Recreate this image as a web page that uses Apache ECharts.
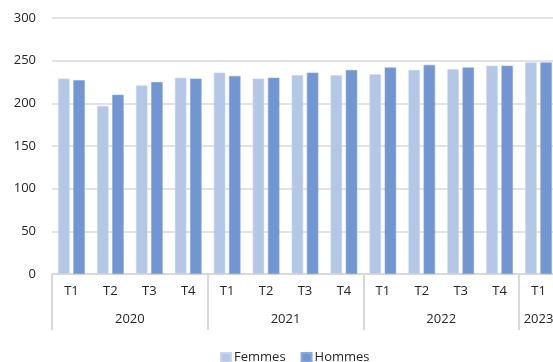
<!DOCTYPE html>
<html>
<head>
<meta charset="utf-8">
<script src="https://cdn.jsdelivr.net/npm/echarts@6/dist/echarts.min.js"></script>
<style>
  html, body { margin: 0; padding: 0; background: #fff; }
  #chart { width: 553px; height: 362px; }
</style>
</head>
<body>
<div id="chart"></div>
<script>
// Quarterly values, 2020 T1 to 2023 T1
const quarters = ['T1','T2','T3','T4','T1','T2','T3','T4','T1','T2','T3','T4','T1'];
const years = ['2020', '2021', '2022', '2023'];
const yearSizes = [4, 4, 4, 1];
const femmes = [229, 197, 221, 230, 236, 229, 233, 233, 234, 239, 240, 244, 248];
const hommes = [227, 210, 225, 229, 232, 230, 236, 239, 242, 245, 242, 244, 248];
const yTicks = [0, 50, 100, 150, 200, 250, 300];

// Year row: a half-step axis so each year label sits at the middle of its group
const halfSteps = quarters.length * 2 + 1;
const yearRow = new Array(halfSteps).fill('');
let start = 0;
years.forEach((y, i) => {
  yearRow[start * 2 + yearSizes[i]] = y;
  start += yearSizes[i];
});
// Group boundaries (category indices where a new year starts)
const boundaries = new Set();
start = 0;
yearSizes.forEach(s => { boundaries.add(start); start += s; });
boundaries.add(start);

const textColor = '#262626';
const lineColor = '#d9d9d9';
const font = 'Open Sans';

const chart = echarts.init(document.getElementById('chart'));
chart.setOption({
  animation: false,
  textStyle: { fontFamily: font },
  grid: { left: 52, top: 18, width: 506, height: 256, containLabel: false, outerBoundsMode: 'none' },
  xAxis: [
    {
      type: 'category',
      data: quarters,
      axisLine: { lineStyle: { color: lineColor, width: 2 } },
      axisTick: {
        show: true,
        length: 56,
        interval: (idx) => boundaries.has(idx),
        lineStyle: { color: lineColor, width: 2 }
      },
      axisLabel: { color: textColor, fontSize: 13, margin: 11, interval: 0, fontFamily: font }
    },
    {
      type: 'category',
      position: 'bottom',
      boundaryGap: false,
      data: yearRow,
      axisLine: { show: false },
      axisTick: { show: false },
      axisLabel: { color: textColor, fontSize: 13, margin: 39, interval: 0, fontFamily: font }
    }
  ],
  yAxis: {
    type: 'value',
    min: yTicks[0],
    max: yTicks[yTicks.length - 1],
    interval: yTicks[1] - yTicks[0],
    axisLine: { show: false },
    axisTick: { show: false },
    axisLabel: { color: textColor, fontSize: 13, margin: 16, fontFamily: font },
    splitLine: { lineStyle: { color: lineColor, width: 1.5 } }
  },
  legend: {
    left: 215,
    top: 346,
    icon: 'rect',
    itemWidth: 10,
    itemHeight: 9,
    itemGap: 15,
    textStyle: { color: textColor, fontSize: 13, fontFamily: font, padding: [0, 0, 0, -2] },
    data: ['Femmes', 'Hommes']
  },
  series: [
    {
      name: 'Femmes',
      type: 'bar',
      data: femmes,
      barWidth: 11.5,
      barGap: '32%',
      itemStyle: { color: '#b4c7e7', borderColor: '#c9d6ee', borderWidth: 0.6 }
    },
    {
      name: 'Hommes',
      type: 'bar',
      data: hommes,
      barWidth: 11.5,
      itemStyle: { color: '#7196d2', borderColor: '#8aa9dc', borderWidth: 0.6 }
    }
  ]
});
</script>
</body>
</html>
